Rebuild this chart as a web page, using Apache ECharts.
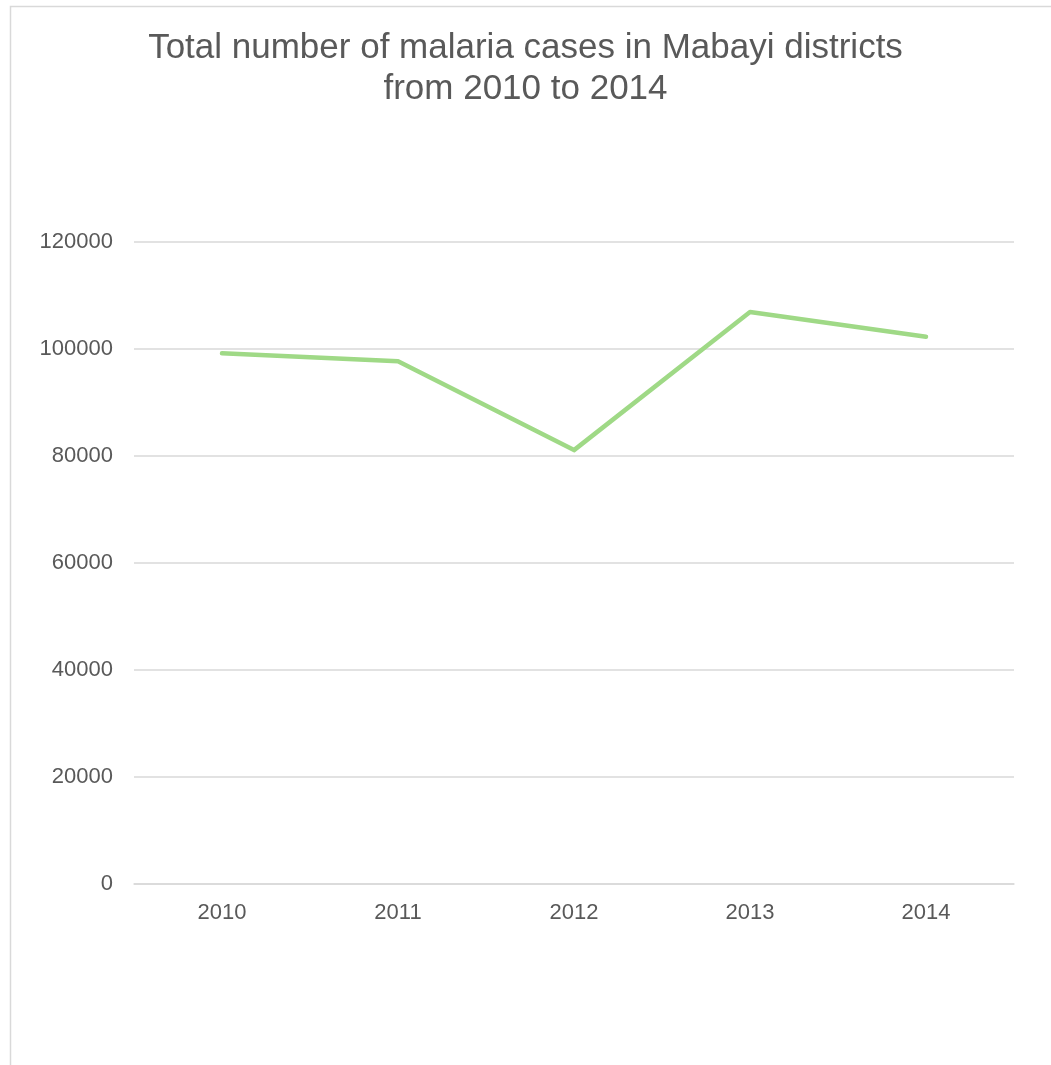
<!DOCTYPE html>
<html>
<head>
<meta charset="utf-8">
<script src="https://cdn.jsdelivr.net/npm/echarts@6/dist/echarts.min.js"></script>
<style>
  html, body { margin: 0; padding: 0; background: #fff; }
  #chart { width: 1051px; height: 1065px; }
</style>
</head>
<body>
<div id="chart"></div>
<script>
var years = ['2010', '2011', '2012', '2013', '2014'];
var cases = [99200, 97700, 81100, 106900, 102300];
var yTicks = [0, 20000, 40000, 60000, 80000, 100000, 120000];

var myChart = echarts.init(document.getElementById('chart'));
var option = {
    backgroundColor: '#fff',
    textStyle: { fontFamily: 'Liberation Sans, Arial, sans-serif' },
    graphic: [
        {
            type: 'rect',
            shape: { x: 10.5, y: 6.5, width: 1200, height: 1200 },
            style: { fill: 'none', stroke: '#d9d9d9', lineWidth: 1.5 },
            silent: true
        }
    ],
    title: {
        text: 'Total number of malaria cases in Mabayi districts\nfrom 2010 to 2014',
        left: 'center',
        top: 23,
        textStyle: {
            color: '#595959',
            fontSize: 35,
            fontWeight: 'normal',
            lineHeight: 41,
            fontFamily: 'Liberation Sans, Arial, sans-serif'
        }
    },
    grid: {
        left: 134,
        right: 37,
        top: 242,
        bottom: 181,
        containLabel: false
    },
    xAxis: {
        type: 'category',
        data: years,
        boundaryGap: true,
        axisLine: { show: true, lineStyle: { color: '#d9d9d9', width: 1.5 } },
        axisTick: { show: false },
        axisLabel: { color: '#595959', fontSize: 22, margin: 18 }
    },
    yAxis: {
        type: 'value',
        min: yTicks[0],
        max: yTicks[yTicks.length - 1],
        interval: 20000,
        axisLine: { show: false },
        axisTick: { show: false },
        axisLabel: {
            color: '#595959',
            fontSize: 22,
            margin: 21,
            formatter: function (v) { return String(v); }
        },
        splitLine: { lineStyle: { color: '#d9d9d9', width: 1.5 } }
    },
    series: [
        {
            name: 'Malaria cases',
            type: 'line',
            data: cases,
            symbol: 'none',
            lineStyle: { color: '#9fd986', width: 4.5, cap: 'round', join: 'round' },
            itemStyle: { color: '#9fd986' }
        }
    ]
};
myChart.setOption(option);
</script>
</body>
</html>
